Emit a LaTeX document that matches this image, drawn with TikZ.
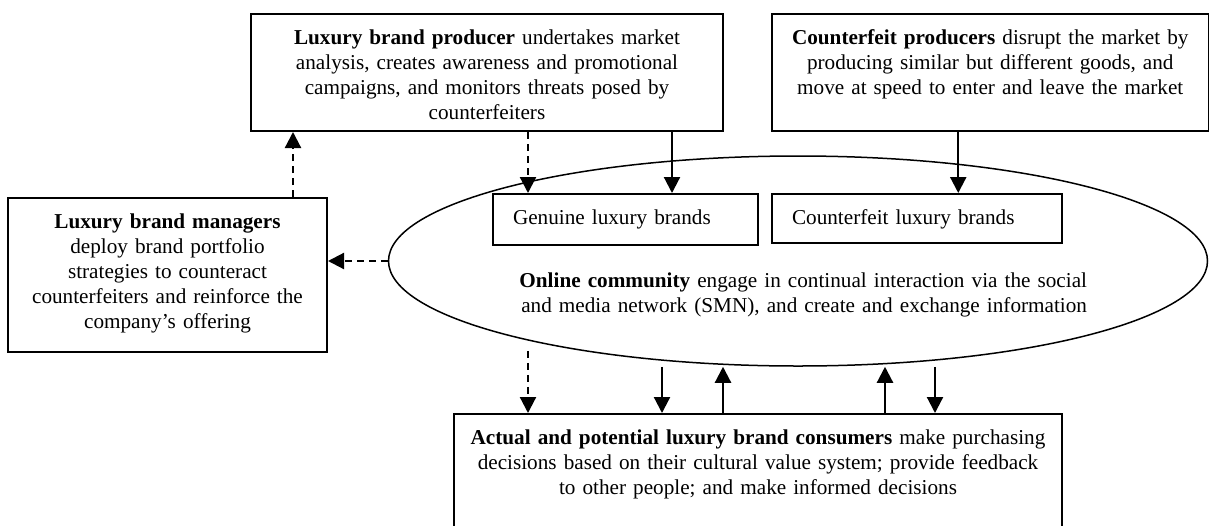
\documentclass[tikz,border=0pt]{standalone}
\usepackage{fontspec}
\setmainfont{Liberation Serif}
\usetikzlibrary{positioning, arrows.meta, shapes.geometric}

\begin{document}
\begin{tikzpicture}[x=0.5pt, y=-0.5pt,
	actor/.style={draw, line width=1pt, fill=white, anchor=north west, align=center,
		inner xsep=4pt, inner ysep=0pt, text height=15pt,
		font=\fontsize{10.6}{12.5}\selectfont},
	brandbox/.style={actor, align=left, inner xsep=10pt},
	flow/.style={line width=1.1pt, -{Triangle[length=8pt, width=8pt]}},
	hint/.style={flow, dash pattern=on 3.5pt off 2.5pt}]
		\useasboundingbox (0,0) rectangle (1209,525);
		\clip (0,0) rectangle (1209,525);
		
		\node[draw, ellipse, line width=0.75pt, minimum width=409.5pt, minimum height=105pt,
			inner sep=0pt, text width=289pt, align=right, text height=42pt, text depth=16pt,
			font=\fontsize{10.6}{12.5}\selectfont] (community) at (798,261)
			{\textbf{Online community} engage in continual interaction via the social\\
			and media network (SMN), and create and exchange information};
		
		\node[actor, text width=228pt, text depth=43.5pt] (producer) at (250,13)
			{\textbf{Luxury brand producer} undertakes market\\
			analysis, creates awareness and promotional\\
			campaigns, and monitors threats posed by\\
			counterfeiters};
		\node[actor, text width=210.25pt, text depth=43.5pt] (counterfeiters) at (771,13)
			{\textbf{Counterfeit producers} disrupt the market by\\
			producing similar but different goods, and\\
			move at speed to enter and leave the market};
		\node[actor, text width=151.5pt, text depth=62pt] (managers) at (7,197)
			{\textbf{Luxury brand managers}\\
			deploy brand portfolio\\
			strategies to counteract\\
			counterfeiters and reinforce the\\
			company’s offering};
		\node[brandbox, text width=112.5pt, text depth=10.5pt] (genuine) at (492,193)
			{Genuine luxury brands};
		\node[brandbox, text width=125pt, text depth=9.5pt] (fakes) at (771,193)
			{Counterfeit luxury brands};
		\node[actor, text width=296pt, text depth=46pt] (consumers) at (453,413)
			{\textbf{Actual and potential luxury brand consumers} make purchasing\\
			decisions based on their cultural value system; provide feedback\\
			to other people; and make informed decisions};
		
		\coordinate (t1) at ([xshift=20.5pt]producer.south);
		\coordinate (t2) at ([xshift=92.5pt]producer.south);
		\coordinate (t3) at ([xshift=-16pt]counterfeiters.south);
		\coordinate (t4) at ([xshift=62.75pt]managers.north);
		\draw[hint] (t1) -- (t1 |- genuine.north);
		\draw[flow] (t2) -- (t2 |- genuine.north);
		\draw[flow] (t3) -- (t3 |- fakes.north);
		\draw[hint] (t4) -- (t4 |- producer.south);
		\draw[hint] (community.west) -- (community.west -| managers.east);
		
		\coordinate (b1) at ([xshift=-115pt]consumers.north);
		\coordinate (b2) at ([xshift=-48pt]consumers.north);
		\coordinate (b3) at ([xshift=-17.5pt]consumers.north);
		\coordinate (b4) at ([xshift=63.5pt]consumers.north);
		\coordinate (b5) at ([xshift=88.5pt]consumers.north);
		\draw[hint] (b1 |- community.south) ++(0,-16) -- (b1);
		\draw[flow] (b2 |- community.south) -- (b2);
		\draw[flow] (b3) -- (b3 |- community.south);
		\draw[flow] (b4) -- (b4 |- community.south);
		\draw[flow] (b5 |- community.south) -- (b5);
	\end{tikzpicture}
\end{document}
